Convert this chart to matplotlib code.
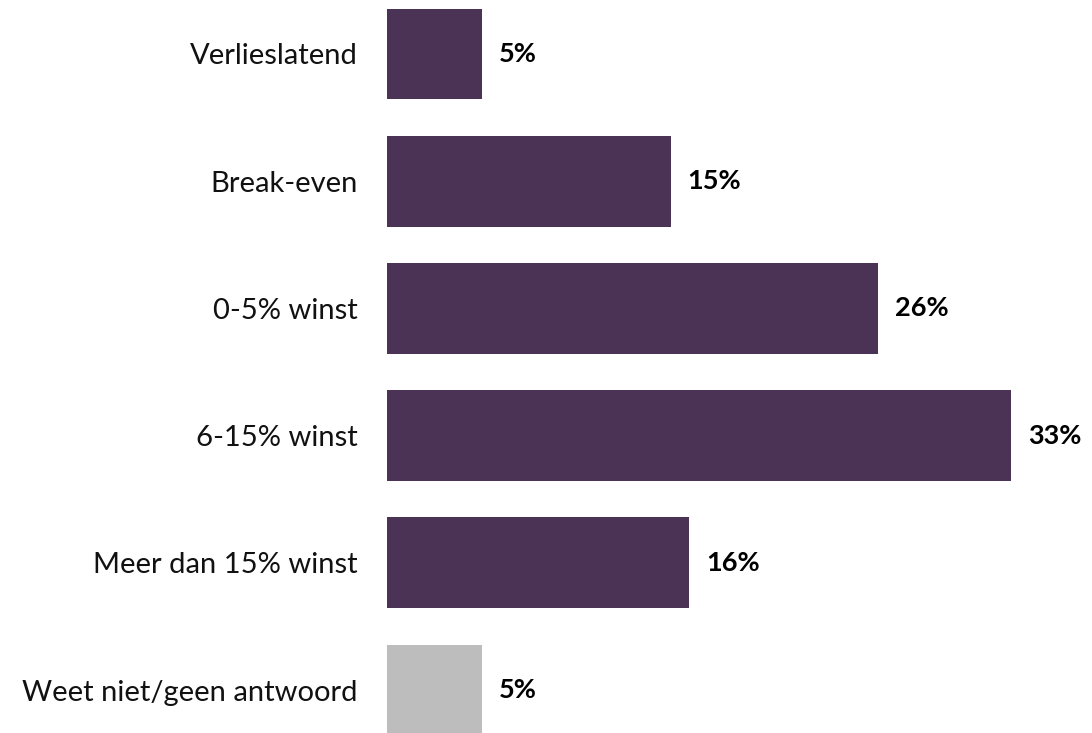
import matplotlib
matplotlib.use("Agg")
import matplotlib.pyplot as plt

categories = ["Verlieslatend", "Break-even", "0-5% winst", "6-15% winst",
              "Meer dan 15% winst", "Weet niet/geen antwoord"]
values = [5, 15, 26, 33, 16, 5]
value_labels = ["5%", "15%", "26%", "33%", "16%", "5%"]
bar_colors = ["#4B3355", "#4B3355", "#4B3355", "#4B3355", "#4B3355", "#BDBDBD"]

plt.rcParams["font.family"] = ["Lato", "DejaVu Sans"]

W, H = 1092, 733
fig = plt.figure(figsize=(W / 100, H / 100), dpi=100)
ax = fig.add_axes([387 / W, 0, (W - 387) / W, 1])

y = list(range(len(categories)))
ax.barh(y, values, height=0.715, color=bar_colors)
ax.set_ylim(len(categories) - 1 + 0.338, -0.4245)
ax.set_xlim(0, (W - 387) / 18.9)

for yi, v, lab in zip(y, values, value_labels):
    ax.text(v + 0.9, yi, lab, va="center", ha="left",
            fontsize=19.5, fontweight="bold", color="#000000")

ax.set_yticks(y)
ax.set_yticklabels(categories, fontsize=21, color="#111111")
ax.tick_params(axis="y", length=0, pad=21)
ax.set_xticks([])
for s in ax.spines.values():
    s.set_visible(False)

fig.savefig("out.png", dpi=100)
